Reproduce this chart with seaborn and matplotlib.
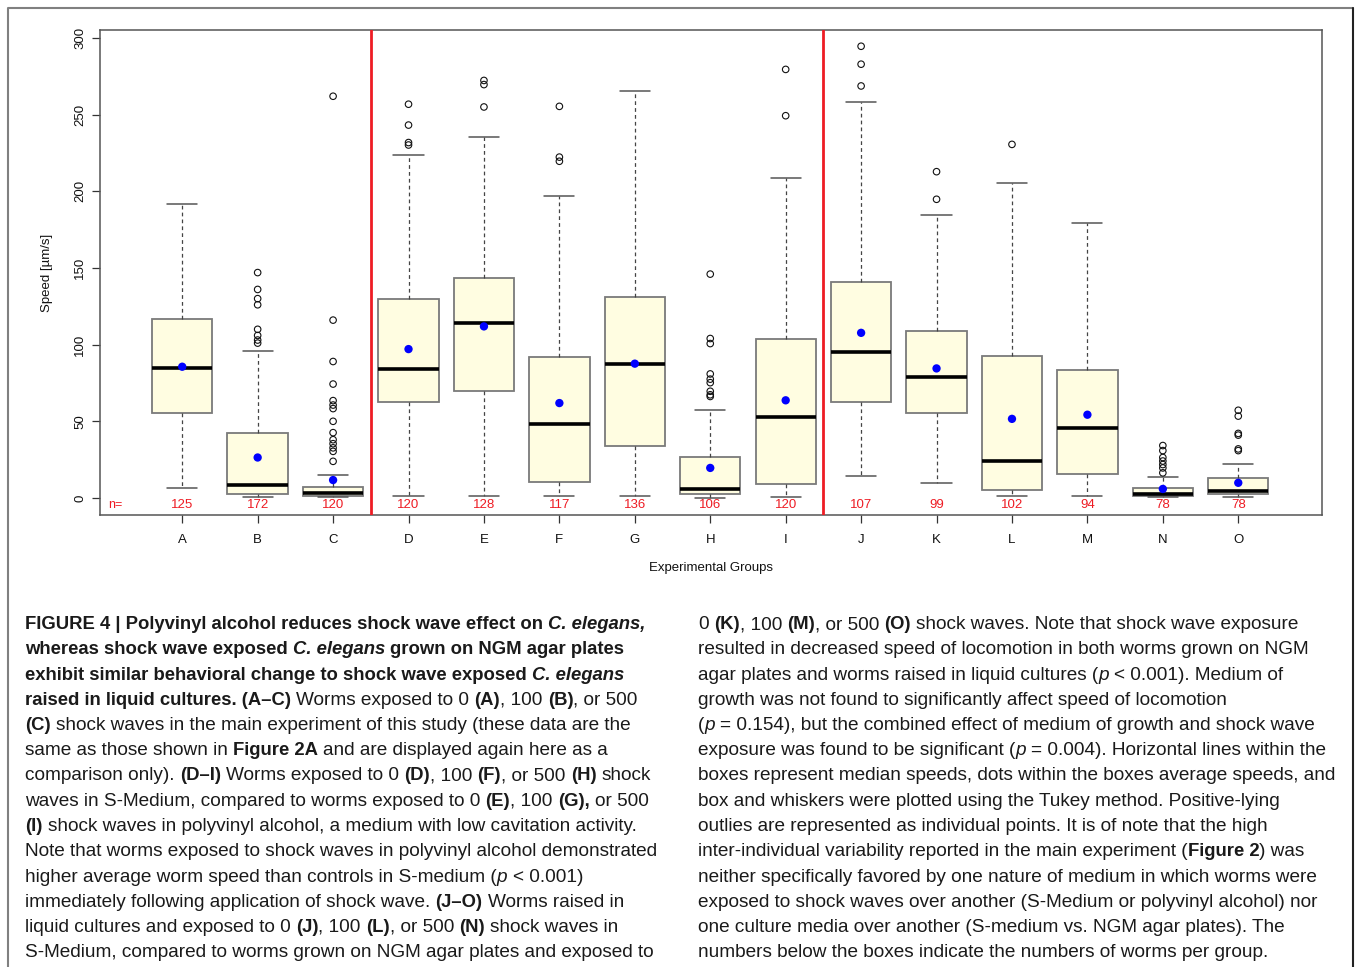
import numpy as np
import pandas as pd
import matplotlib
matplotlib.use("Agg")
import matplotlib.pyplot as plt
from matplotlib.lines import Line2D
import seaborn as sns

# ---------------- data ----------------
groups = list("ABCDEFGHIJKLMNO")
n_counts = [125, 172, 120, 120, 128, 117, 136, 106, 120, 107, 99, 102, 94, 78, 78]
q1 = [55.2, 2.7, 1.6, 62.4, 69.6, 10.4, 33.6, 2.3, 9.0, 62.8, 55.2, 5.2, 15.8, 1.6, 2.3]
medians = [84.5, 8.6, 3.4, 84.2, 114.2, 48.2, 87.4, 5.9, 52.9, 95.3, 78.6, 24.1, 45.9, 2.7, 4.5]
q3 = [117.0, 42.1, 7.0, 129.5, 143.2, 91.9, 131.1, 26.4, 103.8, 141.0, 108.6, 92.3, 83.6, 6.5, 13.1]
whisk_lo = [6.8, 0.5, 0.5, 1.6, 1.6, 1.6, 1.6, 0.2, 0.9, 14.6, 9.5, 1.4, 1.4, 0.5, 0.5]
whisk_hi = [191.4, 95.7, 14.9, 223.4, 235.6, 196.8, 265.5, 57.2, 209.0, 258.1, 184.7, 205.2, 179.5, 13.7, 22.1]
means = [85.6, 26.4, 11.7, 97.1, 111.9, 61.9, 87.6, 19.6, 63.7, 107.7, 84.5, 51.6, 54.3, 5.9, 9.9]
outliers_A = []
outliers_B = [101, 103, 106, 110, 126, 130, 136, 147]
outliers_C = [262, 116, 89, 74.3, 63.5, 60.6, 58.3, 50, 42.6, 38, 35.4, 32.7, 30.4, 23.9]
outliers_D = [256.8, 243.2, 231.8, 230.2]
outliers_E = [255, 272.3, 269.6]
outliers_F = [255.4, 222.3, 219.6]
outliers_G = []
outliers_H = [146, 104, 100.7, 80.9, 77.5, 75.2, 69.6, 67.3, 66.2]
outliers_I = [279.5, 249.3]
outliers_J = [294.6, 282.9, 268.7]
outliers_K = [212.8, 194.8]
outliers_L = [230.6]
outliers_M = []
outliers_N = [34.2, 30.9, 26.4, 24.1, 21.8, 19.6, 16.4]
outliers_O = [57.2, 53.4, 42.1, 41, 32, 30.9]
outliers = [outliers_A, outliers_B, outliers_C, outliers_D, outliers_E, outliers_F,
            outliers_G, outliers_H, outliers_I, outliers_J, outliers_K, outliers_L,
            outliers_M, outliers_N, outliers_O]
y_ticks = [0, 50, 100, 150, 200, 250, 300]
separators = [2.5, 8.5]

caption_left = [
    [("b", "FIGURE 4 | Polyvinyl alcohol reduces shock wave effect on "), ("bi", "C. elegans,")],
    [("b", "whereas shock wave exposed "), ("bi", "C. elegans"), ("b", " grown on NGM agar plates")],
    [("b", "exhibit similar behavioral change to shock wave exposed "), ("bi", "C. elegans")],
    [("b", "raised in liquid cultures. (A\u2013C)"), ("n", " Worms exposed to 0 "), ("b", "(A)"),
     ("n", ", 100 "), ("b", "(B)"), ("n", ", or 500")],
    [("b", "(C)"), ("n", " shock waves in the main experiment of this study (these data are the")],
    [("n", "same as those shown in "), ("b", "Figure 2A"), ("n", " and are displayed again here as a")],
    [("n", "comparison only). "), ("b", "(D\u2013I)"), ("n", " Worms exposed to 0 "), ("b", "(D)"),
     ("n", ", 100 "), ("b", "(F)"), ("n", ", or 500 "), ("b", "(H)"), ("n", " shock")],
    [("n", "waves in S-Medium, compared to worms exposed to 0 "), ("b", "(E)"), ("n", ", 100 "),
     ("b", "(G),"), ("n", " or 500")],
    [("b", "(I)"), ("n", " shock waves in polyvinyl alcohol, a medium with low cavitation activity.")],
    [("n", "Note that worms exposed to shock waves in polyvinyl alcohol demonstrated")],
    [("n", "higher average worm speed than controls in S-medium ("), ("i", "p"), ("n", " < 0.001)")],
    [("n", "immediately following application of shock wave. "), ("b", "(J\u2013O)"), ("n", " Worms raised in")],
    [("n", "liquid cultures and exposed to 0 "), ("b", "(J)"), ("n", ", 100 "), ("b", "(L)"),
     ("n", ", or 500 "), ("b", "(N)"), ("n", " shock waves in")],
    [("n", "S-Medium, compared to worms grown on NGM agar plates and exposed to")],
]
caption_right = [
    [("n", "0 "), ("b", "(K)"), ("n", ", 100 "), ("b", "(M)"), ("n", ", or 500 "), ("b", "(O)"),
     ("n", " shock waves. Note that shock wave exposure")],
    [("n", "resulted in decreased speed of locomotion in both worms grown on NGM")],
    [("n", "agar plates and worms raised in liquid cultures ("), ("i", "p"), ("n", " < 0.001). Medium of")],
    [("n", "growth was not found to significantly affect speed of locomotion")],
    [("n", "("), ("i", "p"), ("n", " = 0.154), but the combined effect of medium of growth and shock wave")],
    [("n", "exposure was found to be significant ("), ("i", "p"), ("n", " = 0.004). Horizontal lines within the")],
    [("n", "boxes represent median speeds, dots within the boxes average speeds, and")],
    [("n", "box and whiskers were plotted using the Tukey method. Positive-lying")],
    [("n", "outlies are represented as individual points. It is of note that the high")],
    [("n", "inter-individual variability reported in the main experiment ("), ("b", "Figure 2"), ("n", ") was")],
    [("n", "neither specifically favored by one nature of medium in which worms were")],
    [("n", "exposed to shock waves over another (S-Medium or polyvinyl alcohol) nor")],
    [("n", "one culture media over another (S-medium vs. NGM agar plates). The")],
    [("n", "numbers below the boxes indicate the numbers of worms per group.")],
]

# ---------------- style ----------------
sns.set_style("white")
plt.rcParams['font.family'] = ['Liberation Sans', 'DejaVu Sans']

W, H = 1355, 967
fig = plt.figure(figsize=(W / 100, H / 100), dpi=100)
ax = fig.add_axes([100 / W, 1 - 515 / H, 1222 / W, 485 / H])

positions = np.arange(len(groups))
stats = []
for i, g in enumerate(groups):
    stats.append(dict(label=g, med=medians[i], q1=q1[i], q3=q3[i],
                      whislo=whisk_lo[i], whishi=whisk_hi[i], fliers=[]))

ax.bxp(stats, positions=positions, widths=0.8, patch_artist=True, showfliers=False,
       capwidths=0.4,
       boxprops=dict(facecolor='#FFFDE1', edgecolor='#7a7a7a', linewidth=1.3),
       medianprops=dict(color='black', linewidth=2.6, solid_capstyle='butt'),
       whiskerprops=dict(color='#444444', linestyle=(0, (3, 2.5)), linewidth=0.9),
       capprops=dict(color='#555555', linewidth=1.1))

# outliers
out_x, out_y = [], []
for i, vals in enumerate(outliers):
    out_x += [positions[i]] * len(vals)
    out_y += list(vals)
df_out = pd.DataFrame({"x": out_x, "y": out_y})
sns.scatterplot(data=df_out, x="x", y="y", ax=ax, marker='o', s=22,
                facecolors='none', edgecolors='#111111', linewidths=0.8, zorder=4, legend=False)

# means
df_mean = pd.DataFrame({"x": positions, "y": means})
sns.scatterplot(data=df_mean, x="x", y="y", ax=ax, color='#0000FF', s=36,
                edgecolor='none', zorder=5, legend=False)

for s in separators:
    ax.axvline(s, color='#ee1c24', linewidth=2.0, zorder=3)

# n labels
ax.text(-0.89, -4.6, "n=", color='#ee1c24', fontsize=9, ha='center', va='center')
for i, n in enumerate(n_counts):
    ax.text(positions[i], -4.6, str(n), color='#ee1c24', fontsize=9.5, ha='center', va='center')

ax.set_xlim(-1.09, 15.11)
ax.set_ylim(-11.1, 305.2)
ax.set_xticks(positions)
ax.set_xticklabels(groups)
ax.set_yticks(y_ticks)
ax.set_yticklabels([str(v) for v in y_ticks])
for lab in ax.get_yticklabels():
    lab.set_rotation(90)
    lab.set_va('center')
ax.tick_params(axis='both', direction='out', length=6, width=0.9, color='#333333',
               labelsize=9.5, labelcolor='#111111', left=True, bottom=True)
ax.tick_params(axis='x', pad=8)
ax.tick_params(axis='y', pad=4)
for sp in ax.spines.values():
    sp.set_color('#555555')
    sp.set_linewidth(1.1)
    sp.set_visible(True)

ax.set_xlabel("Experimental Groups", fontsize=9.5, color='#111111')
ax.set_ylabel("Speed [\u00b5m/s]", fontsize=9.5, color='#111111')
ax.xaxis.set_label_coords(0.5, -(562 - 515) / 485)
ax.yaxis.set_label_coords(-(100 - 53) / 1222, 0.5)

# outer frame
def px(x, y):
    return x / W, 1 - y / H
xs, ys = zip(*[px(8, 967), px(8, 8), px(1353, 8), px(1353, 967)])
fig.add_artist(Line2D(xs[:3], ys[:3], color='#808080', linewidth=1.5))
fig.add_artist(Line2D(xs[2:], ys[2:], color='#222222', linewidth=1.5))

# caption
renderer = fig.canvas.get_renderer()
sizes = {"n": 13.7, "i": 13.7, "b": 13.35, "bi": 13.35}
styles = {"n": dict(fontweight='normal', fontstyle='normal'),
          "b": dict(fontweight='bold', fontstyle='normal'),
          "i": dict(fontweight='normal', fontstyle='italic'),
          "bi": dict(fontweight='bold', fontstyle='italic')}

def text_width(s, st):
    t = fig.text(0, 0, s, fontsize=sizes[st], **styles[st])
    w = t.get_window_extent(renderer).width
    t.remove()
    return w

space_w = {k: text_width("a a", k) - text_width("aa", k) for k in styles}

def draw_lines(lines, x0, y0, dy):
    for k, runs in enumerate(lines):
        x = x0
        yb = y0 + k * dy
        for st, s in runs:
            lead = len(s) - len(s.lstrip(' '))
            trail = len(s) - len(s.rstrip(' '))
            core = s.strip(' ')
            x += lead * space_w[st]
            if core:
                t = fig.text(x / W, 1 - yb / H, core, fontsize=sizes[st], va='baseline',
                             ha='left', color='#1a1a1a', **styles[st])
                x += t.get_window_extent(renderer).width
            x += trail * space_w[st]

draw_lines(caption_left, 25, 629, 25.25)
draw_lines(caption_right, 698, 629, 25.25)

fig.savefig("out.png", dpi=100)
